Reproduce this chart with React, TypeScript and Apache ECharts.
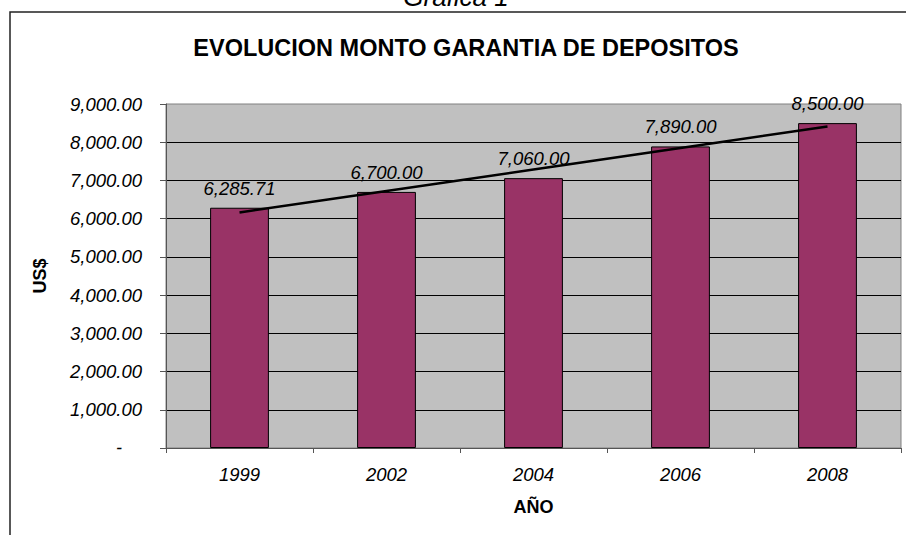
import React, { useEffect, useRef } from "react";
import * as echarts from "echarts";

const years = ["1999", "2002", "2004", "2006", "2008"];
const amounts = [6285.71, 6700.0, 7060.0, 7890.0, 8500.0];
const yTicks = { min: 0, max: 9000, interval: 1000 };
const chartTitle = "EVOLUCION MONTO GARANTIA DE DEPOSITOS";
const topCaption = "Grafica 1";

const FONT = "'Liberation Sans', Arial, sans-serif";

function fmt(v: number): string {
  return v.toLocaleString("en-US", { minimumFractionDigits: 2, maximumFractionDigits: 2 });
}

// Linear trendline (least squares over category index), as Excel computes it
function linearTrend(values: number[]): number[] {
  const n = values.length;
  const xs = values.map((_, i) => i + 1);
  const mx = xs.reduce((a, b) => a + b, 0) / n;
  const my = values.reduce((a, b) => a + b, 0) / n;
  let num = 0;
  let den = 0;
  for (let i = 0; i < n; i++) {
    num += (xs[i] - mx) * (values[i] - my);
    den += (xs[i] - mx) * (xs[i] - mx);
  }
  const slope = num / den;
  const icpt = my - slope * mx;
  return xs.map((x) => icpt + slope * x);
}

export default function App() {
  const ref = useRef<HTMLDivElement>(null);
  useEffect(() => {
    if (!ref.current) return;
    const chart = echarts.init(ref.current, null, { renderer: "svg" });
    chart.setOption({
      animation: false,
      backgroundColor: "#ffffff",
      textStyle: { fontFamily: FONT },
      graphic: [
        {
          type: "rect",
          shape: { x: 10, y: 12, width: 960, height: 600 },
          style: { fill: "none", stroke: "#222", lineWidth: 1.5 },
          z: 0,
        },
        {
          type: "text",
          x: 456,
          y: 10,
          style: {
            text: topCaption,
            font: `italic 26px ${FONT}`,
            fill: "#000",
            textAlign: "center",
            textVerticalAlign: "bottom",
          },
        },
      ],
      title: {
        text: chartTitle,
        left: 461,
        top: 31,
        textAlign: "center",
        textStyle: { fontFamily: FONT, fontSize: 23.5, fontWeight: "bold", color: "#000" },
      },
      grid: {
        left: 166,
        right: 5,
        top: 104,
        bottom: 87,
        show: true,
        backgroundColor: "#C0C0C0",
        borderColor: "#808080",
        borderWidth: 1,
      },
      xAxis: {
        type: "category",
        data: years,
        name: "AÑO",
        nameLocation: "middle",
        nameGap: 50,
        nameTextStyle: { fontFamily: FONT, fontSize: 18, fontWeight: "bold", color: "#000" },
        axisLine: { show: true, lineStyle: { color: "#555", width: 1 } },
        axisTick: { show: true, length: 5, lineStyle: { color: "#555" } },
        axisLabel: { fontFamily: FONT, fontSize: 18.5, fontStyle: "italic", color: "#000", margin: 17 },
      },
      yAxis: {
        type: "value",
        min: yTicks.min,
        max: yTicks.max,
        interval: yTicks.interval,
        name: "US$",
        nameLocation: "middle",
        nameGap: 117,
        nameTextStyle: { fontFamily: FONT, fontSize: 18, fontWeight: "bold", color: "#000" },
        axisLine: { show: true, lineStyle: { color: "#555", width: 1 } },
        axisTick: { show: true, length: 6, lineStyle: { color: "#555" } },
        splitLine: { show: true, showMinLine: false, showMaxLine: false, lineStyle: { color: "#000", width: 1 } },
        axisLabel: {
          fontFamily: FONT,
          fontSize: 18.5,
          fontStyle: "italic",
          color: "#000",
          margin: 24,
          formatter: (v: number) => (v === 0 ? "{d|-}" : fmt(v)),
          rich: {
            d: { fontFamily: FONT, fontSize: 18, color: "#000", padding: [0, 20, 0, 0] },
          },
        },
      },
      series: [
        {
          type: "bar",
          data: amounts,
          barWidth: "40%",
          itemStyle: { color: "#993366", borderColor: "#000", borderWidth: 1 },
          label: {
            show: true,
            position: "top",
            distance: 10,
            fontFamily: FONT,
            fontSize: 18.5,
            fontStyle: "italic",
            color: "#000",
            formatter: (p: any) => fmt(p.value),
          },
          z: 2,
        },
        {
          type: "line",
          data: linearTrend(amounts),
          symbol: "none",
          lineStyle: { color: "#000", width: 2.5 },
          z: 3,
          silent: true,
        },
      ],
    });
    return () => chart.dispose();
  }, []);
  return (
    <div
      ref={ref}
      style={{ position: "fixed", left: 0, top: 0, width: 906, height: 535 }}
    />
  );
}
